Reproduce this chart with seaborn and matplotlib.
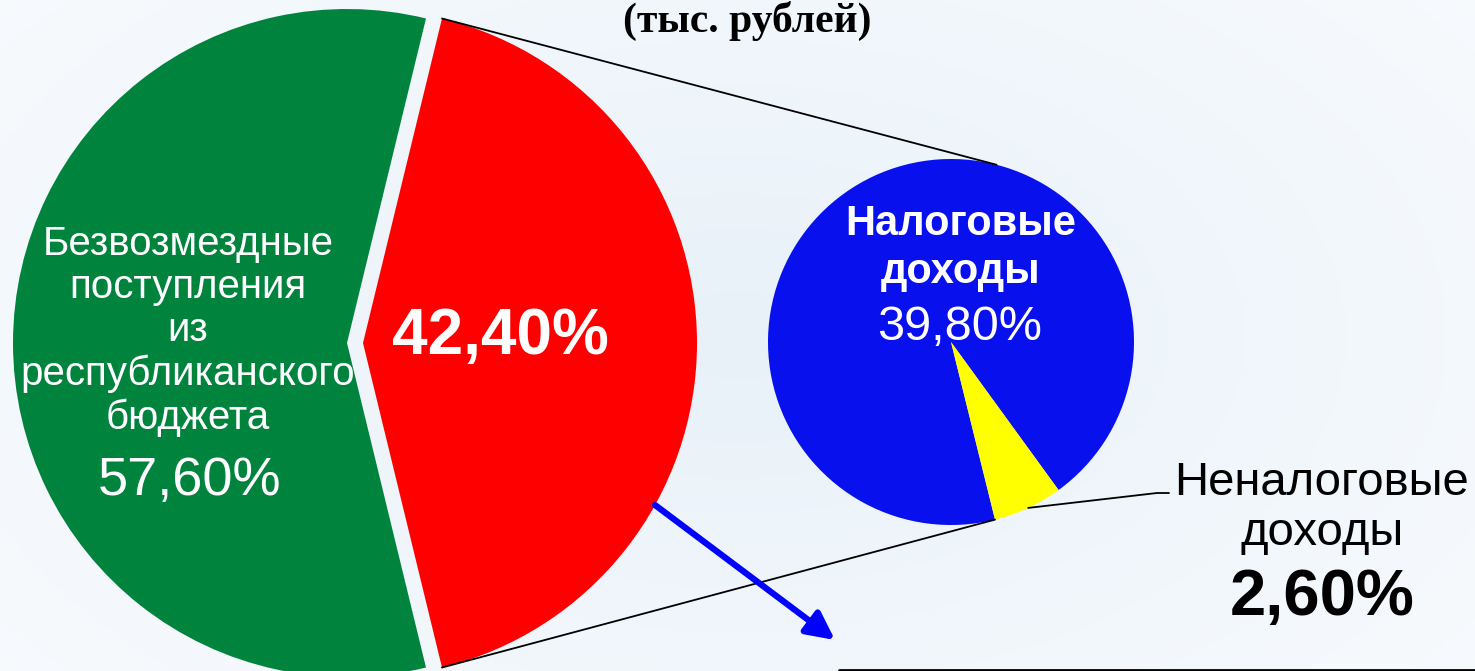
"""
Структура доходов: большая круговая диаграмма + выноска собственных доходов.
"""
import numpy as np
import matplotlib.pyplot as plt
import seaborn as sns

# --- данные ---
main_labels = ["Безвозмездные\nпоступления\nиз\nреспубликанского\nбюджета", "Собственные доходы"]
main_shares = [57.6, 42.4]
own_labels = ["Налоговые\nдоходы", "Неналоговые\nдоходы"]
own_shares = [39.8, 2.6]
title_text = "(тыс. рублей)"

W, H = 1475, 671
sns.set_theme(style="white")
plt.rcParams["font.family"] = ["Liberation Sans", "DejaVu Sans"]


def pct(v):
    return f"{v:.2f}%".replace(".", ",")


fig = plt.figure(figsize=(W / 100, H / 100), dpi=100)

# фон — мягкий голубой градиент
bg = fig.add_axes([0, 0, 1, 1], zorder=0)
yy, xx = np.mgrid[0:1:200j, 0:1:400j]
d = np.sqrt(((xx - 0.5) / 0.7) ** 2 + ((yy - 0.5) / 0.9) ** 2)
edge = np.array([0.975, 0.985, 0.995])
mid = np.array([0.91, 0.945, 0.975])
t = np.clip(d, 0, 1)[..., None]
bg.imshow(mid * (1 - t) + edge * t, aspect="auto", extent=(0, 1, 0, 1))
bg.axis("off")

ax = fig.add_axes([0, 0, 1, 1], zorder=1)
ax.patch.set_alpha(0)

# большая диаграмма (красный сектор по центру справа)
big_c = (355, H - 343)
big_r = 334
gap = 8  # смещение секторов, в пикселях
big_start = main_shares[1] / 100 * 180
ax.pie(main_shares, colors=["#00843d", "#ff0000"], startangle=big_start,
       center=big_c, radius=big_r, explode=[gap, gap],
       wedgeprops=dict(linewidth=0))

# малая диаграмма
small_c = (951, H - 342)
small_r = 183
own_total = sum(own_shares)
yellow_span = own_shares[1] / own_total * 360
small_start = -54
ax.pie(own_shares, colors=["#0810ee", "#ffff00"], startangle=small_start,
       center=small_c, radius=small_r, wedgeprops=dict(linewidth=0))

# соединительные линии
half = np.deg2rad(main_shares[1] / 100 * 180)
red_c = (big_c[0] + gap, big_c[1])
top_red = (red_c[0] + big_r * np.cos(half), red_c[1] + big_r * np.sin(half))
bot_red = (red_c[0] + big_r * np.cos(-half), red_c[1] + big_r * np.sin(-half))
a_top = np.deg2rad(75.6)
a_bot = np.deg2rad(small_start - yellow_span)
ax.plot([top_red[0], small_c[0] + small_r * np.cos(a_top)],
        [top_red[1], small_c[1] + small_r * np.sin(a_top)], color="black", lw=1.3)
ax.plot([bot_red[0], small_c[0] + small_r * np.cos(a_bot)],
        [bot_red[1], small_c[1] + small_r * np.sin(a_bot)], color="black", lw=1.3)

# выноска для неналоговых доходов
a_mid = np.deg2rad(small_start - yellow_span / 2)
p0 = (small_c[0] + small_r * np.cos(a_mid), small_c[1] + small_r * np.sin(a_mid))
ax.plot([p0[0], 1157, 1169], [p0[1], H - 493, H - 493], color="black", lw=1.3)

# синяя стрелка
ax.annotate("", xy=(835, H - 640), xytext=(655, H - 505),
            arrowprops=dict(arrowstyle="-|>,head_length=1.4,head_width=0.7",
                            color="#0000ff", lw=4.5, shrinkA=0, shrinkB=0))

# нижняя линия
ax.plot([839, W], [1.5, 1.5], color="black", lw=2)

# подписи
ax.text(188, H - 331, main_labels[0], color="white", fontsize=29, ha="center",
        va="center", linespacing=1.18)
ax.text(190, H - 481, pct(main_shares[0]), color="white",
        fontsize=39, ha="center", va="center")
ax.text(500, H - 337, pct(main_shares[1]), color="white",
        fontsize=46, fontweight="bold", ha="center", va="center")
ax.text(961, H - 248, own_labels[0], color="white", fontsize=30, fontweight="bold",
        ha="center", va="center", linespacing=1.25)
ax.text(960, H - 327, pct(own_shares[0]), color="white",
        fontsize=35, ha="center", va="center")
ax.text(1322, H - 508, own_labels[1], color="black", fontsize=34, ha="center",
        va="center", linespacing=1.17)
ax.text(1322, H - 598, pct(own_shares[1]), color="black",
        fontsize=47, fontweight="bold", ha="center", va="center")
ax.text(747, H - 1, title_text, color="black", fontsize=30, fontweight="bold",
        family="Liberation Serif", ha="center", va="top")

ax.set_xlim(0, W)
ax.set_ylim(0, H)
ax.set_aspect("auto")
ax.axis("off")

fig.savefig("out.png", dpi=100)
plt.close(fig)
